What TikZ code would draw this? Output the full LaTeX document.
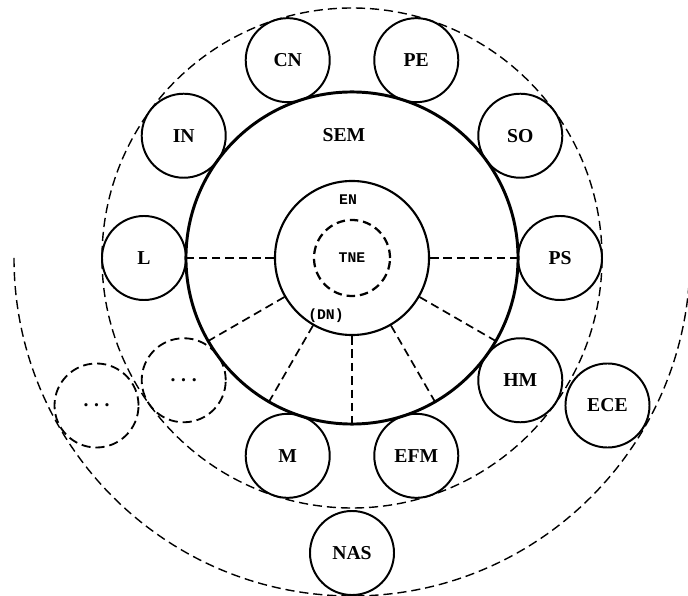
\documentclass[tikz,border=0pt]{standalone}
\usepackage{fontspec}
\setmainfont{Liberation Serif}
\newfontfamily\tnefont{Liberation Mono}

\begin{document}
\begin{tikzpicture}[x=0.025cm, y=0.025cm,
    sat/.style={circle, draw, line width=1.4pt, minimum size=2.1cm, inner sep=0pt, font=\fontsize{14}{16}\selectfont\bfseries},
    more/.style={circle, draw, line width=1.3pt, dash pattern=on 6.5pt off 3.5pt, minimum size=2.1cm, inner sep=0pt, font=\fontsize{14}{16}\selectfont\bfseries},
    ring/.style={line width=1pt, dash pattern=on 6.5pt off 3.5pt},
    spoke/.style={line width=1.2pt, dash pattern=on 6pt off 3.5pt},
    small/.style={font=\tnefont\fontsize{10.5}{12}\selectfont\bfseries}]
    \useasboundingbox (-352,-338) rectangle (336,258);

    % dashed rings
    \draw[ring] (0,0) circle (250);
    \draw[ring] (180:338) arc (180:360:338);

    % SEM
    \node[circle, draw, line width=2.1pt, minimum size=8.3cm] (SEM) at (0,0) {};
    \node[font=\fontsize{14}{16}\selectfont\bfseries] (SEMtext) at (-8,123) {SEM};

    % EN, TNE, DN
    \node[circle, draw, line width=1.5pt, minimum size=3.85cm] (EN) at (0,0) {};
    \node[small] (ENtext) at (-4,58) {EN};
    \node[circle, draw, line width=1.6pt, dash pattern=on 6pt off 3.5pt, minimum size=1.9cm, small] (TNE) at (0,0) {TNE};
    \node[small] (DN) at (-26,-58) {(DN)};

    % spokes
    \draw[spoke] (EN.0) -- (SEM.0);
    \draw[spoke] (EN.180) -- (SEM.180);
    \draw[spoke] (EN.-30) -- (SEM.-30);
    \draw[spoke] (EN.-60) -- (SEM.-60);
    \draw[spoke] (EN.-90) -- (SEM.-90);
    \draw[spoke] (EN.-120) -- (SEM.-120);
    \draw[spoke] (EN.-150) -- (SEM.-150);

    % inner satellites
    \node[sat] (PS) at (0:208) {PS};
    \node[sat] (SO) at (36:208) {SO};
    \node[sat] (PE) at (72:208) {PE};
    \node[sat] (CN) at (108:208) {CN};
    \node[sat] (IN) at (144:208) {IN};
    \node[sat] (L) at (180:208) {L};
    \node[more] (more1) at (216:208) {.\hspace{4pt}.\hspace{4pt}.};
    \node[sat] (M) at (252:208) {M};
    \node[sat] (EFM) at (288:208) {EFM};
    \node[sat] (HM) at (324:208) {HM};

    % outer satellites
    \node[sat] (ECE) at (-30:295) {ECE};
    \node[sat] (NAS) at (-90:295) {NAS};
    \node[more] (more2) at (-150:295) {.\hspace{4pt}.\hspace{4pt}.};
\end{tikzpicture}
\end{document}
